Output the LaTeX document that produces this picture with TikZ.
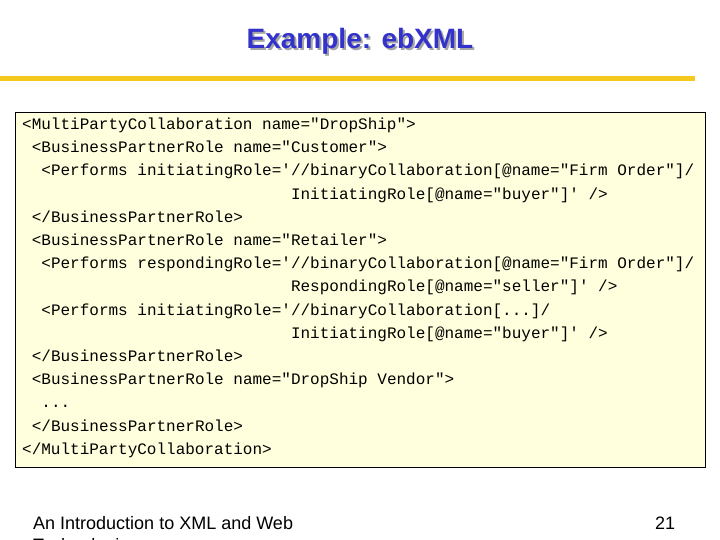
\documentclass[tikz,border=0pt]{standalone}
\usepackage{fontspec}
\setmainfont{Liberation Sans}
\newfontfamily\codefont{Liberation Mono}
\definecolor{titleblue}{RGB}{51,51,204}
\definecolor{boxfill}{RGB}{255,255,221}
\definecolor{rule}{RGB}{245,200,30}
\tikzset{code/.style={anchor=base west,inner sep=0pt,font=\codefont\fontsize{16}{16}\selectfont},
foot/.style={anchor=base west,inner sep=0pt,font=\fontsize{18}{18}\selectfont}}
\begin{document}
\begin{tikzpicture}[x=1pt,y=-1pt]
\useasboundingbox (0,0) rectangle (720,540);
\node[text=black!35,font=\bfseries\fontsize{28}{28}\selectfont] (ts) at (362,43) {Example: ebXML};
\node[text=titleblue,font=\bfseries\fontsize{28}{28}\selectfont] (title) at (360,41) {Example: ebXML};
\fill[rule] (0,76.5) rectangle (695,81.5);
\draw[black,fill=boxfill,line width=0.8pt] (15,112) rectangle (705,467);
\node[code] (l0) at (22,129.5) {<MultiPartyCollaboration name="DropShip">};
\node[code] (l1) at (31.6,152.7) {<BusinessPartnerRole name="Customer">};
\node[code] (l2) at (41.2,175.9) {<Performs initiatingRole='//binaryCollaboration[@name="Firm Order"]/};
\node[code] (l3) at (290.8,199.1) {InitiatingRole[@name="buyer"]' />};
\node[code] (l4) at (31.6,222.3) {</BusinessPartnerRole>};
\node[code] (l5) at (31.6,245.5) {<BusinessPartnerRole name="Retailer">};
\node[code] (l6) at (41.2,268.7) {<Performs respondingRole='//binaryCollaboration[@name="Firm Order"]/};
\node[code] (l7) at (290.8,291.9) {RespondingRole[@name="seller"]' />};
\node[code] (l8) at (41.2,315.1) {<Performs initiatingRole='//binaryCollaboration[...]/};
\node[code] (l9) at (290.8,338.3) {InitiatingRole[@name="buyer"]' />};
\node[code] (l10) at (31.6,361.5) {</BusinessPartnerRole>};
\node[code] (l11) at (31.6,384.7) {<BusinessPartnerRole name="DropShip Vendor">};
\node[code] (l12) at (41.2,407.9) {...};
\node[code] (l13) at (31.6,431.1) {</BusinessPartnerRole>};
\node[code] (l14) at (22,454.3) {</MultiPartyCollaboration>};
\node[foot] (f1) at (33,529) {An Introduction to XML and Web};
\node[foot] (f2) at (33,551) {Technologies};
\node[foot] (pg) at (655,529) {21};
\end{tikzpicture}
\end{document}
